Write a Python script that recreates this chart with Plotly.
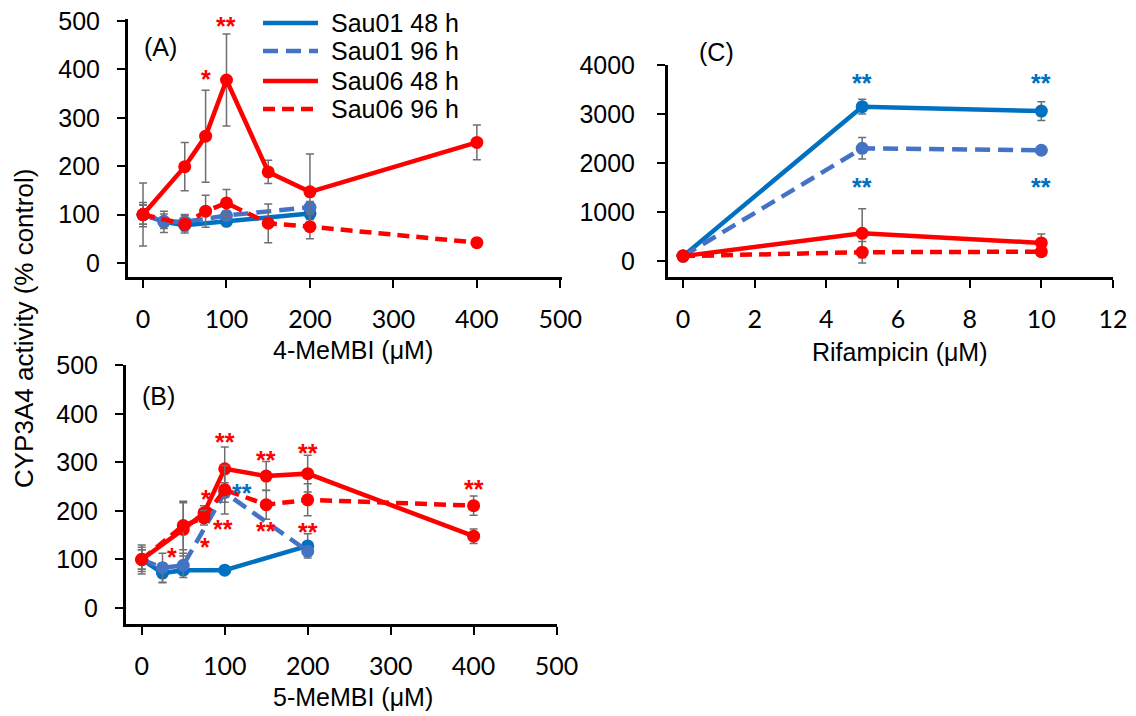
import plotly.graph_objects as go

W, H = 1136, 716

# ---------------- data ----------------
series_names = ["Sau01 48 h", "Sau01 96 h", "Sau06 48 h", "Sau06 96 h"]
series_colors = ["#0070C0", "#4472C4", "#FF0000", "#FF0000"]
series_dash = ["solid", "15px,8px", "solid", "12px,7px"]

# Panel A: 4-MeMBI
a_x_sau01 = [0, 25, 50, 100, 200]
a_x_sau06 = [0, 50, 75, 100, 150, 200, 400]
a_sau01_48 = [100, 85, 78, 86, 102]
a_sau01_48_err = [25, 22, 12, 8, 12]
a_sau01_96 = [100, 86, 85, 98, 115]
a_sau01_96_err = [20, 15, 15, 10, 12]
a_sau06_48 = [100, 199, 262, 378, 188, 147, 249]
a_sau06_48_err = [65, 50, 95, 95, 24, 78, 36]
a_sau06_96 = [100, 80, 107, 124, 82, 75, 42]
a_sau06_96_err = [20, 18, 33, 28, 40, 25, 5]

# Panel B: 5-MeMBI
b_x_sau01 = [0, 25, 50, 100, 200]
b_x_sau06 = [0, 50, 75, 100, 150, 200, 400]
b_sau01_48 = [100, 72, 78, 78, 128]
b_sau01_48_err = [30, 20, 8, 8, 25]
b_sau01_96 = [100, 83, 88, 238, 117]
b_sau01_96_err = [25, 30, 25, 20, 10]
b_sau06_48 = [100, 162, 196, 287, 272, 277, 148]
b_sau06_48_err = [20, 55, 15, 45, 30, 38, 15]
b_sau06_96 = [100, 170, 186, 244, 213, 223, 211]
b_sau06_96_err = [20, 50, 15, 50, 30, 33, 20]

# Panel C: Rifampicin
c_x = [0, 5, 10]
c_sau01_48 = [100, 3150, 3060]
c_sau01_48_err = [0, 150, 190]
c_sau01_96 = [100, 2300, 2260]
c_sau01_96_err = [0, 220, 40]
c_sau06_48 = [100, 565, 370]
c_sau06_48_err = [0, 500, 180]
c_sau06_96 = [100, 180, 190]
c_sau06_96_err = [0, 220, 20]

# significance marks: (x, y, text, colour)
a_stars = [(75, 394, "*", "#FF0000"), (100, 503, "**", "#FF0000")]
b_stars = [(100, 357, "**", "#FF0000"), (150, 320, "**", "#FF0000"),
           (200, 335, "**", "#FF0000"), (400, 260, "**", "#FF0000"),
           (77, 240, "*", "#FF0000"), (121, 251, "**", "#0070C0"),
           (98, 177, "**", "#FF0000"), (150, 174, "**", "#FF0000"),
           (200, 172, "**", "#FF0000"), (37, 120, "*", "#FF0000"),
           (76, 140, "*", "#FF0000")]
c_stars = [(5, 3780, "**", "#0070C0"), (5, 1650, "**", "#0070C0"),
           (10, 3780, "**", "#0070C0"), (10, 1650, "**", "#0070C0")]

panel_x_ticks_ab = [0, 100, 200, 300, 400, 500]
panel_y_ticks_ab = [0, 100, 200, 300, 400, 500]
panel_x_ticks_c = [0, 2, 4, 6, 8, 10, 12]
panel_y_ticks_c = [0, 1000, 2000, 3000, 4000]

# ---------------- figure ----------------
def fx(p):
    return p / W

def fy(p):
    return 1 - p / H

fig = go.Figure()

panels = [
    ("x", "y", [(a_x_sau01, a_sau01_48, a_sau01_48_err), (a_x_sau01, a_sau01_96, a_sau01_96_err),
                (a_x_sau06, a_sau06_48, a_sau06_48_err), (a_x_sau06, a_sau06_96, a_sau06_96_err)]),
    ("x2", "y2", [(b_x_sau01, b_sau01_48, b_sau01_48_err), (b_x_sau01, b_sau01_96, b_sau01_96_err),
                  (b_x_sau06, b_sau06_48, b_sau06_48_err), (b_x_sau06, b_sau06_96, b_sau06_96_err)]),
    ("x3", "y3", [(c_x, c_sau01_48, c_sau01_48_err), (c_x, c_sau01_96, c_sau01_96_err),
                  (c_x, c_sau06_48, c_sau06_48_err), (c_x, c_sau06_96, c_sau06_96_err)]),
]

for xa, ya, data in panels:
    for i, (xs, ys, es) in enumerate(data):
        fig.add_trace(go.Scatter(
            x=xs, y=ys, mode="lines+markers", name=series_names[i],
            xaxis=xa, yaxis=ya, showlegend=False, cliponaxis=False,
            line=dict(color=series_colors[i], width=4.5, dash=series_dash[i]),
            marker=dict(size=13, color=series_colors[i]),
            error_y=dict(type="data", array=es, visible=True, color="#6F6F6F",
                         thickness=1.5, width=4),
        ))

tick_font_x = dict(family="Lato, Liberation Sans, Arial", size=25, color="black")
tick_font_y = dict(family="Liberation Sans, Arial", size=25, color="black")

def axis_common():
    return dict(showline=True, linewidth=3, linecolor="black", ticks="outside",
                ticklen=8, tickwidth=2, tickcolor="black", showgrid=False,
                zeroline=False, automargin=False)

fig.update_layout(
    width=W, height=H, margin=dict(l=0, r=0, t=0, b=0),
    plot_bgcolor="white", paper_bgcolor="white", showlegend=False,
    xaxis=dict(**axis_common(), domain=[fx(128), fx(562)], range=[-18, 502], anchor="y",
               tickvals=panel_x_ticks_ab, tickfont=tick_font_x, ticklabelstandoff=10),
    yaxis=dict(**axis_common(), domain=[fy(277), fy(19)], range=[-29, 504], anchor="x",
               tickvals=panel_y_ticks_ab, tickfont=tick_font_y, ticklabelstandoff=12),
    xaxis2=dict(**axis_common(), domain=[fx(126), fx(557)], range=[-19, 500.5], anchor="y2",
                tickvals=panel_x_ticks_ab, tickfont=tick_font_x, ticklabelstandoff=10),
    yaxis2=dict(**axis_common(), domain=[fy(624), fy(365)], range=[-33, 501], anchor="x2",
                tickvals=panel_y_ticks_ab, tickfont=tick_font_y, ticklabelstandoff=12),
    xaxis3=dict(**axis_common(), domain=[fx(668), fx(1113)], range=[-0.42, 12], anchor="y3",
                tickvals=panel_x_ticks_c, tickfont=tick_font_x, ticklabelstandoff=10),
    yaxis3=dict(**axis_common(), domain=[fy(277), fy(65)], range=[-326, 4000], anchor="x3",
                tickvals=panel_y_ticks_c, tickfont=tick_font_y, ticklabelstandoff=17),
)

# significance stars
for xa, ya, stars in [("x", "y", a_stars), ("x2", "y2", b_stars), ("x3", "y3", c_stars)]:
    for sx, sy, txt, col in stars:
        fig.add_annotation(x=sx, y=sy, xref=xa, yref=ya, text="<b>" + txt + "</b>",
                           showarrow=False, yshift=-7,
                           font=dict(family="Liberation Sans, Arial", size=25, color=col))

title_font = dict(family="Liberation Sans, Arial", size=25, color="black")

# panel labels
for lab, px_, py_ in [("(A)", 160, 47), ("(B)", 158, 396), ("(C)", 716, 52)]:
    fig.add_annotation(x=fx(px_), y=fy(py_), xref="paper", yref="paper", text=lab,
                       showarrow=False, xanchor="center", yanchor="middle", font=title_font)

# axis titles
for txt, px_, py_ in [("4-MeMBI (μM)", 353, 350), ("5-MeMBI (μM)", 353, 697),
                      ("Rifampicin (μM)", 900, 352)]:
    fig.add_annotation(x=fx(px_), y=fy(py_), xref="paper", yref="paper", text=txt,
                       showarrow=False, xanchor="center", yanchor="middle", font=title_font)

fig.add_annotation(x=fx(24), y=fy(329), xref="paper", yref="paper",
                   text="CYP3A4 activity (% control)", textangle=-90, showarrow=False,
                   xanchor="center", yanchor="middle",
                   font=dict(family="Liberation Sans, Arial", size=26, color="black"))

# legend (drawn inside panel A)
leg_rows = [23, 51, 81, 109]
for i, name in enumerate(series_names):
    yy = fy(leg_rows[i])
    fig.add_shape(type="line", xref="paper", yref="paper", x0=fx(263), x1=fx(318), y0=yy, y1=yy,
                  line=dict(color=series_colors[i], width=4.5, dash=series_dash[i]))
    fig.add_annotation(x=fx(329), y=yy, xref="paper", yref="paper", text=name,
                       showarrow=False, xanchor="left", yanchor="middle", font=title_font)

fig.write_html("out.html")
